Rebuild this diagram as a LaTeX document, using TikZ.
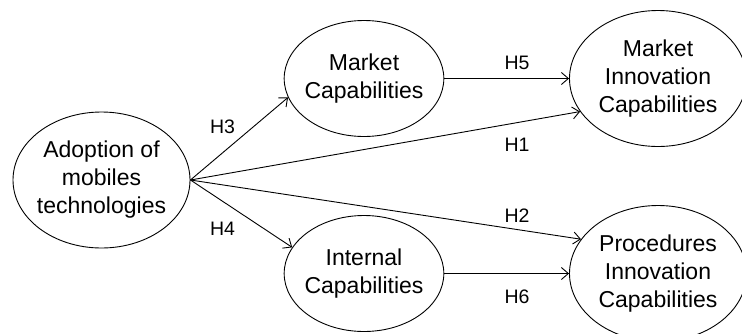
\documentclass[tikz,border=0pt]{standalone}
\usepackage{fontspec}
\setmainfont{Liberation Sans}
\usetikzlibrary{shapes.geometric,arrows.meta}
\tikzset{
  ell/.style={ellipse,draw,line width=0.9pt,inner xsep=-3pt,inner ysep=0pt,align=center,
    font=\fontsize{23}{28}\selectfont},
  bigell/.style={ell,minimum width=177pt,minimum height=136pt},
  smallell/.style={ell,minimum width=154pt,minimum height=116pt},
  conn/.style={line width=0.9pt,-{Straight Barb[length=7pt,width=12pt,line width=0.9pt]}},
  hlab/.style={font=\fontsize{19.5}{23}\selectfont,inner sep=0pt}
}
\begin{document}
\begin{tikzpicture}[x=1pt,y=-1pt]
\useasboundingbox (0,0) rectangle (742,333);
\node[bigell] (A) at (101.5,180) {Adoption of\\mobiles\\technologies};
\node[smallell] (MC) at (364,78.5) {Market\\Capabilities};
\node[smallell] (IC) at (364,273.5) {Internal\\Capabilities};
\node[bigell] (MI) at (658,78.5) {Market\\Innovation\\Capabilities};
\node[bigell] (PI) at (658,273.5) {Procedures\\Innovation\\Capabilities};
\draw[conn] (A.east) -- (MC.194);
\draw[conn] (A.east) -- (IC.160);
\draw[conn] (A.east) -- (MI.203);
\draw[conn] (A.east) -- (PI.156);
\draw[conn] (MC.east) -- (MI.west);
\draw[conn] (IC.east) -- (PI.west);
\node[hlab] (h3) at (222.5,127) {H3};
\node[hlab] (h4) at (222.5,228.5) {H4};
\node[hlab] (h5) at (517,63) {H5};
\node[hlab] (h1) at (517,145) {H1};
\node[hlab] (h2) at (517,216) {H2};
\node[hlab] (h6) at (517,297) {H6};
\end{tikzpicture}
\end{document}
